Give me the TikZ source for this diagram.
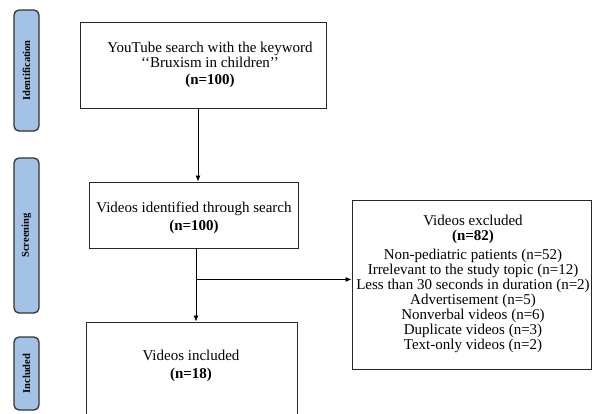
\documentclass[tikz,border=0pt]{standalone}
\usepackage{fontspec}
\setmainfont{Liberation Serif}
\usetikzlibrary{arrows.meta,calc}
\definecolor{tabblue}{HTML}{A4C2E6}
\begin{document}
\begin{tikzpicture}[x=1pt,y=-1pt,
  box/.style={draw=black!85,line width=0.9pt,fill=white,inner sep=0pt},
  txt/.style={align=center,font=\fontsize{15}{15}\selectfont,inner sep=0pt},
  tab/.style={draw=black!80,line width=1.3pt,fill=tabblue,rounded corners=5pt,minimum width=25pt,inner sep=0pt},
  tabtxt/.style={rotate=90,font=\bfseries\fontsize{10.5}{11}\selectfont,inner sep=0pt},
  arr/.style={line width=0.8pt,-{Latex[length=6pt,width=5pt]}}]
\useasboundingbox (0,0) rectangle (592,413);
% phase tabs
\node[tab,minimum height=121pt] (t1) at (26.5,70.5) {};
\node[tabtxt] (t1l) at (t1.center) {Identification};
\node[tab,minimum height=155pt] (t2) at (26.5,235.5) {};
\node[tabtxt] (t2l) at (t2.center) {Screening};
\node[tab,minimum height=73pt] (t3) at (26.5,373.5) {};
\node[tabtxt] (t3l) at (t3.center) {Included};
% boxes
\node[box,minimum width=246pt,minimum height=86pt] (b1) at (203,65) {};
\node[txt] (b1t) at (210,65) {YouTube search with the keyword\\{`}{`}Bruxism in children{'}{'}\\[2pt]\textbf{(n=100)}};
\node[box,minimum width=209pt,minimum height=66pt] (b2) at (193.5,215) {};
\node[txt] (b2t) at (194,217.5) {Videos identified through search\\[3pt]\textbf{(n=100)}};
\node[box,minimum width=211pt,minimum height=100pt] (b3) at (191.5,372) {};
\node[txt] (b3t) at (191,365.5) {Videos included\\[3pt]\textbf{(n=18)}};
\node[box,minimum width=239pt,minimum height=169pt] (ex) at (471.5,284.5) {};
\node[txt] (ext) at (473,283.5) {Videos excluded\\\textbf{(n=82)}\\[4pt]Non-pediatric patients (n=52)\\Irrelevant to the study topic (n=12)\\Less than 30 seconds in duration (n=2)\\Advertisement (n=5)\\Nonverbal videos (n=6)\\Duplicate videos (n=3)\\Text-only videos (n=2)};
% connectors
\draw[arr] ([xshift=-5pt]b1.south) -- ([xshift=-5pt]b1.south |- b2.north);
\draw[arr] ([xshift=2.5pt]b2.south) -- ([xshift=2.5pt]b2.south |- b3.north);
\coordinate (br) at ([xshift=2.5pt,yshift=-31pt]b2.south);
\draw[arr] (br) -- (br -| ex.west);
\end{tikzpicture}
\end{document}
